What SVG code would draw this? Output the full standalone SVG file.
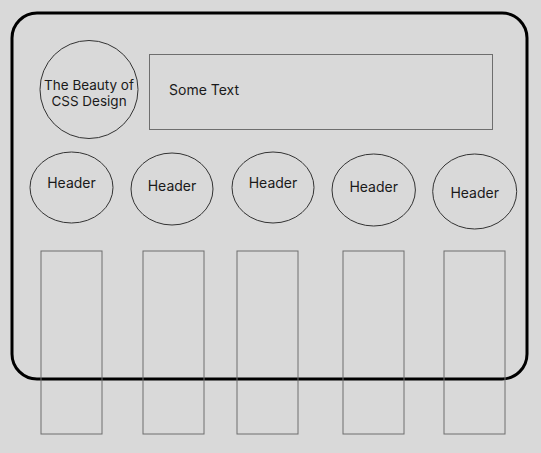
<svg xmlns="http://www.w3.org/2000/svg" width="541" height="453" viewBox="0 0 541 453">
<style>
text{font-family:Inter,"Liberation Sans",sans-serif;font-size:14px;fill:#1a1a1a}
.t{font-size:13.5px}
.e{fill:none;stroke:#333;stroke-width:1}
.c{fill:none;stroke:#6e6e6e;stroke-width:1}
</style>
<rect width="541" height="453" fill="#d9d9d9"/>
<g id="frame"><rect x="12" y="13" width="515" height="366" rx="25" fill="none" stroke="#000" stroke-width="3"/></g>
<g id="title"><circle class="e" cx="89" cy="89.5" r="49"/><text class="t" x="89" y="90" text-anchor="middle">The Beauty of</text><text class="t" x="89" y="106" text-anchor="middle">CSS Design</text></g>
<g id="sometext"><rect class="c" x="149.5" y="54.5" width="343" height="75"/><text x="169" y="95">Some Text</text></g>
<g id="h1"><ellipse class="e" cx="71.5" cy="187.5" rx="41.5" ry="35.5"/><text x="71.5" y="188" text-anchor="middle">Header</text></g>
<g id="h2"><ellipse class="e" cx="172" cy="189" rx="41" ry="36"/><text x="172" y="191" text-anchor="middle">Header</text></g>
<g id="h3"><ellipse class="e" cx="273" cy="187.5" rx="41" ry="35.5"/><text x="273" y="188" text-anchor="middle">Header</text></g>
<g id="h4"><ellipse class="e" cx="373.7" cy="190" rx="41.7" ry="36"/><text x="373.7" y="192" text-anchor="middle">Header</text></g>
<g id="h5"><ellipse class="e" cx="474.7" cy="191.5" rx="42" ry="37.5"/><text x="474.7" y="198" text-anchor="middle">Header</text></g>
<g id="col1"><rect class="c" x="41" y="251" width="61" height="183"/></g>
<g id="col2"><rect class="c" x="143" y="251" width="61" height="183" stroke="#444"/></g>
<g id="col3"><rect class="c" x="237" y="251" width="61" height="183"/></g>
<g id="col4"><rect class="c" x="343" y="251" width="61" height="183"/></g>
<g id="col5"><rect class="c" x="444" y="251" width="61" height="183"/></g>
<g id="connectors"></g>
</svg>
